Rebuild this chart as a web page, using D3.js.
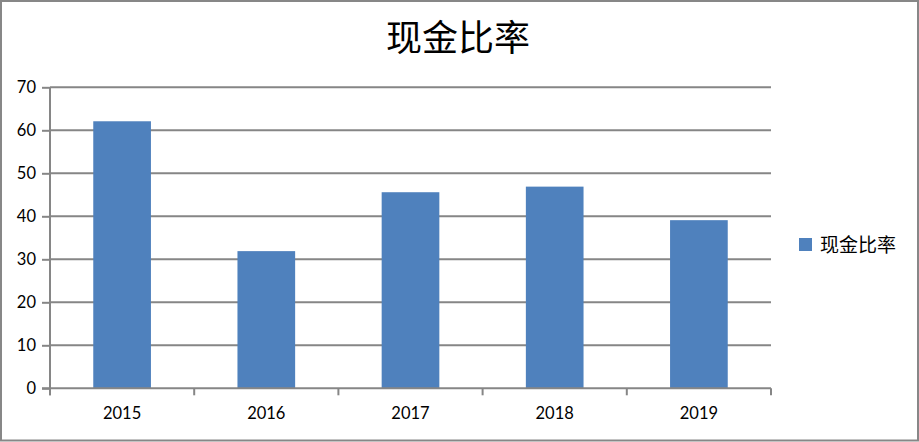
<!DOCTYPE html>
<html>
<head>
<meta charset="utf-8">
<script src="https://cdn.jsdelivr.net/npm/d3@7"></script>
<style>
  html, body { margin: 0; padding: 0; background: #fff; }
  svg { display: block; }
</style>
</head>
<body>
<svg id="chart" width="919" height="442"></svg>
<script>
const title = "现金比率";
const seriesName = "现金比率";
const categories = ["2015", "2016", "2017", "2018", "2019"];
const values = [62.1, 31.9, 45.6, 46.9, 39.1];
const yTicks = [0, 10, 20, 30, 40, 50, 60, 70];

const W = 919, H = 442;
const margin = { left: 50, right: 148, top: 87.3, bottom: 53.7 };
const svg = d3.select("#chart");

// outer border
svg.append("rect")
  .attr("x", 1).attr("y", 1)
  .attr("width", W - 2).attr("height", H - 2.5)
  .attr("fill", "#fff").attr("stroke", "#878787").attr("stroke-width", 2);

const x = d3.scaleBand().domain(categories)
  .range([margin.left, W - margin.right])
  .paddingInner(0.6).paddingOuter(0.3);
const y = d3.scaleLinear().domain([0, 70]).range([H - margin.bottom, margin.top]);

const axisColor = "#868686";
const tickFont = "Lato, 'Open Sans', sans-serif";

// gridlines
svg.append("g").selectAll("line").data(yTicks.filter(d => d > 0)).join("line")
  .attr("x1", margin.left).attr("x2", W - margin.right)
  .attr("y1", d => y(d)).attr("y2", d => y(d))
  .attr("stroke", axisColor).attr("stroke-width", 2);

// bars
svg.append("g").selectAll("rect").data(values).join("rect")
  .attr("x", (d, i) => x(categories[i]))
  .attr("width", x.bandwidth())
  .attr("y", d => y(d))
  .attr("height", d => y(0) - y(d))
  .attr("fill", "#4F81BD");

// y axis
const yAxis = svg.append("g")
  .attr("transform", `translate(${margin.left},0)`)
  .call(d3.axisLeft(y).tickValues(yTicks).tickSize(8).tickPadding(6));
yAxis.select(".domain").attr("stroke", axisColor).attr("stroke-width", 2)
  .attr("d", `M0,${y(70)}V${y(0) + 7}`);
yAxis.selectAll(".tick line").attr("stroke", axisColor).attr("stroke-width", 2);
yAxis.selectAll(".tick text").attr("font-family", tickFont).attr("font-size", 16.5)
  .attr("fill", "#000");

// x axis
const xBase = d3.scaleLinear().domain([0, categories.length]).range([margin.left, W - margin.right]);
const xAxisG = svg.append("g");
xAxisG.append("line")
  .attr("x1", margin.left - 8).attr("x2", W - margin.right)
  .attr("y1", y(0)).attr("y2", y(0))
  .attr("stroke", axisColor).attr("stroke-width", 2);
xAxisG.selectAll("line.tk").data(d3.range(categories.length + 1)).join("line")
  .attr("class", "tk")
  .attr("x1", d => xBase(d)).attr("x2", d => xBase(d))
  .attr("y1", y(0)).attr("y2", y(0) + 7)
  .attr("stroke", axisColor).attr("stroke-width", 2);
xAxisG.selectAll("text").data(categories).join("text")
  .attr("x", d => x(d) + x.bandwidth() / 2)
  .attr("y", y(0) + 31)
  .attr("text-anchor", "middle")
  .attr("font-family", tickFont).attr("font-size", 16.5).attr("fill", "#000")
  .text(d => d);

// title
svg.append("text")
  .attr("x", 458).attr("y", 51)
  .attr("text-anchor", "middle")
  .attr("font-family", "'Noto Sans CJK SC', sans-serif")
  .attr("font-size", 36).attr("fill", "#000")
  .text(title);

// legend
const lg = svg.append("g").attr("transform", "translate(799,238)");
lg.append("rect").attr("width", 13).attr("height", 13).attr("fill", "#4F81BD");
lg.append("text").attr("x", 21).attr("y", 13.5)
  .attr("font-family", "'Noto Sans CJK SC', sans-serif")
  .attr("font-size", 19).attr("fill", "#000")
  .text(seriesName);
</script>
</body>
</html>
